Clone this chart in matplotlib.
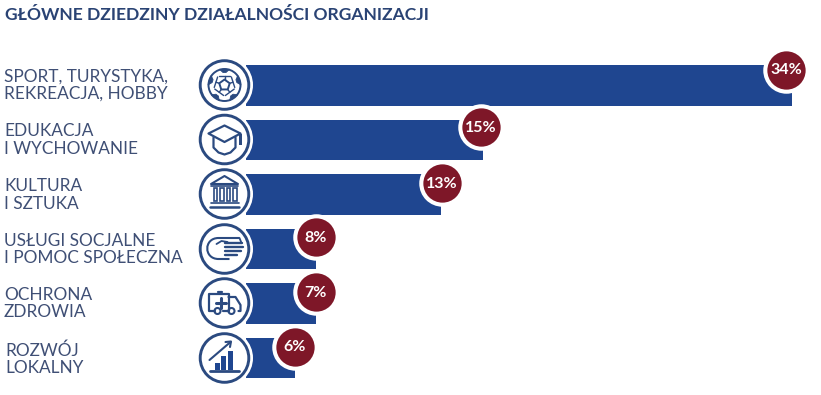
import numpy as np
import matplotlib
matplotlib.use("Agg")
import matplotlib.pyplot as plt
from matplotlib.patches import Circle, Polygon, Rectangle, PathPatch
from matplotlib.path import Path

plt.rcParams['font.family'] = ['Lato', 'DejaVu Sans']

title = "GŁÓWNE DZIEDZINY DZIAŁALNOŚCI ORGANIZACJI"
categories = ["SPORT, TURYSTYKA,\nREKREACJA, HOBBY", "EDUKACJA\nI WYCHOWANIE", "KULTURA\nI SZTUKA",
              "USŁUGI SOCJALNE\nI POMOC SPOŁECZNA", "OCHRONA\nZDROWIA", "ROZWÓJ\nLOKALNY"]
percent_labels = ["34%", "15%", "13%", "8%", "7%", "6%"]
# drawn bar lengths as they appear in the picture (the infographic is not to scale)
bar_lengths = [34.0, 14.75, 12.15, 4.35, 4.35, 3.05]
badge_x = [33.65, 14.65, 12.2, 4.35, 4.35, 3.05]
badge_rows = [-0.29, -0.23, -0.21, -0.22, -0.21, -0.21]

W, H = 821, 395
BAR = "#1F4690"
RED = "#7E1728"
NAVY = "#2A4374"
TEXT = "#3F4F75"
ICON = "#2B4A80"

fig = plt.figure(figsize=(W / 100, H / 100), dpi=100, facecolor="white")

# bars
top, bottom = 58.25, 385.25
bx = fig.add_axes([246 / W, 1 - bottom / H, (792 - 246) / W, (bottom - top) / H], zorder=1)
bx.set_xlim(0, 34)
bx.set_ylim(5.5, -0.5)
bx.axis("off")
rows = np.arange(len(categories))
bx.barh(rows, bar_lengths, height=0.75, color=BAR, zorder=1)
by = rows + np.array(badge_rows)
bx.scatter(badge_x, by, s=1120, color="white", zorder=2, clip_on=False, linewidths=0)
bx.scatter(badge_x, by, s=760, color=RED, zorder=3, clip_on=False, linewidths=0)
for x, y, t in zip(badge_x, by, percent_labels):
    bx.text(x, y + 0.01, t, color="white", fontsize=11.5, fontweight="bold", ha="center", va="center", zorder=4, clip_on=False)

# overlay in pixel coordinates for text and icons
ax = fig.add_axes([0, 0, 1, 1], zorder=2)
ax.set_xlim(0, W)
ax.set_ylim(H, 0)
ax.axis("off")
ax.patch.set_alpha(0)

ax.text(5, 15, title, fontsize=12.6, fontweight="bold", color=NAVY, ha="left", va="center")
label_x = [4, 4, 4, 4, 4, 5]
label_y = [85.5, 140, 195, 249.5, 303.5, 359]
for x, y, t in zip(label_x, label_y, categories):
    ax.text(x, y, t, fontsize=12.45, color=TEXT, ha="left", va="center", linespacing=1.08)

cx = 224.5
cy = [85, 139.5, 194, 249, 303, 358]
LW = 1.5


def line(c, pts, lw=LW, color=ICON, closed=False, fill=None):
    pts = np.array(pts, float) + np.array(c)
    if closed or fill:
        ax.add_patch(Polygon(pts, closed=True, fill=fill is not None, facecolor=fill, edgecolor=color, lw=lw, joinstyle="round"))
    else:
        ax.plot(pts[:, 0], pts[:, 1], color=color, lw=lw, solid_capstyle="round", solid_joinstyle="round")


for y in cy:
    ax.add_patch(Circle((cx, y), 28.5, fc="white", ec="none", zorder=0.5))
    ax.add_patch(Circle((cx, y), 24.3, fc="white", ec=ICON, lw=2.1))

# football
c = (cx, cy[0])
ax.add_patch(Circle(c, 16, fc="none", ec=ICON, lw=1.4))
ang = np.deg2rad(-90 + 72 * np.arange(5))
pent = np.c_[np.cos(ang), np.sin(ang)]
line(c, pent * 5.5, closed=True, lw=1.4)
for a in ang:
    u = np.array([np.cos(a), np.sin(a)])
    n = np.array([-u[1], u[0]])
    line(c, [u * 5.5, u * 9], lw=1.0)
    line(c, [u * 9 + n * 5.5, u * 9, u * 9 - n * 5.5], lw=1.0)
    line(c, [u * 12.5 + n * 1.5, u * 15.7 + n * 5, u * 15.7 - n * 5, u * 12.5 - n * 1.5], fill=ICON, lw=0.6)

# mortarboard
c = (cx, cy[1])
line(c, [(-16, -6), (0, -14), (16, -6), (0, 2.5)], closed=True, lw=1.6)
line(c, [(-11, -2), (-11, 8), (-6, 13), (0, 15), (6, 13), (11, 8), (11, -2)], lw=1.6)
ax.add_patch(Rectangle((c[0] + 14.5, c[1] - 6), 3, 11, fc=ICON, ec="none"))

# building
c = (cx, cy[2])
line(c, [(0, -18), (-13.5, -10), (13.5, -10)], closed=True, lw=1.5)
line(c, [(-13.5, -8.5), (13.5, -8.5)], lw=1.2)
for dx in (-11, -4.5, 2, 8.5):
    ax.add_patch(Rectangle((c[0] + dx, c[1] - 6.5), 3.6, 13, fc="white", ec=ICON, lw=1.2))
line(c, [(-14, 9), (14, 9)], lw=1.2)
line(c, [(-14.5, 12.5), (14.5, 12.5)], lw=1.8)

# hand
c = (cx, cy[3])
v = [(15, -11), (-6, -11), (-21, -11), (-21, 10), (-6, 10), (5, 10)]
codes = [Path.MOVETO, Path.LINETO, Path.CURVE4, Path.CURVE4, Path.CURVE4, Path.LINETO]
ax.add_patch(PathPatch(Path(np.array(v) + np.array(c), codes), fc="none", ec=ICON, lw=1.5))
line(c, [(-8, -5), (-3, -8), (3, -7)], lw=1.3)
for y0, x1 in [(-6, 17), (-2, 18), (2, 16), (6, 12)]:
    line(c, [(0, y0), (x1, y0)], lw=1.7)
line(c, [(15, -11), (17, -6)], lw=1.3)

# ambulance
c = (cx, cy[4])
line(c, [(-10, 8), (-16, 8), (-16, -9), (4, -9), (4, 8), (-2, 8)], lw=1.6)
line(c, [(4, -6), (11, -6), (16, 2), (16, 8), (14, 8)], lw=1.6)
line(c, [(2, 8), (3, 8)], lw=1.6)
line(c, [(-4, -5), (-4, 5)], lw=2.2)
line(c, [(-9, 0), (1, 0)], lw=2.2)
line(c, [(-7, -11), (-3, -11)], lw=1.6)
for dx in (-7, 7):
    ax.add_patch(Circle((c[0] + dx, c[1] + 8), 3, fc="white", ec=ICON, lw=1.5))

# growth chart
c = (cx, cy[5])
line(c, [(-15, 12.5), (14, 12.5)], lw=2)
for x0, y0 in [(-10, 5), (-4, -2), (3, -7)]:
    ax.add_patch(Rectangle((c[0] + x0, c[1] + y0), 5.8, 12 - y0, fc=BAR, ec="none"))
line(c, [(-15, 2), (6, -16)], lw=1.5)
line(c, [(1, -16), (6.5, -16.5), (5.5, -11)], lw=1.5)

fig.savefig("out.png", dpi=100, facecolor="white")
